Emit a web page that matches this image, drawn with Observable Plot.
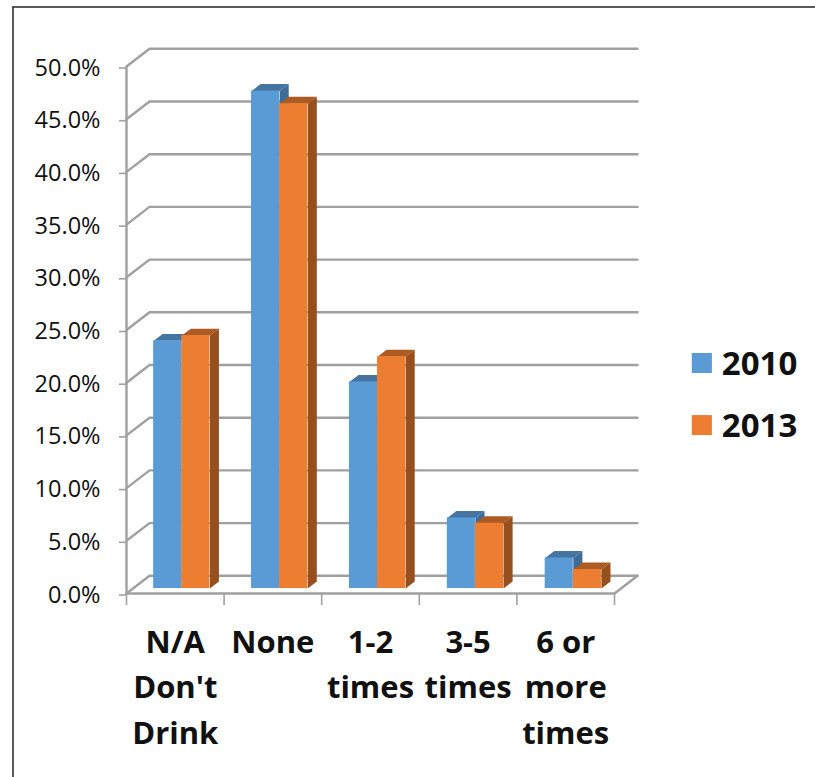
<!DOCTYPE html>
<html>
<head>
<meta charset="utf-8">
<script src="https://cdn.jsdelivr.net/npm/d3@7"></script>
<script src="https://cdn.jsdelivr.net/npm/@observablehq/plot@0.6"></script>
<style>
  html, body { margin: 0; padding: 0; background: #fff; overflow: hidden; }
  svg { display: block; }
</style>
</head>
<body>
<script>
// Drinking frequency shares, in percent
const categories = ["N/A\nDon't\nDrink", "None", "1-2\ntimes", "3-5\ntimes", "6 or\nmore\ntimes"];
const values2010 = [23.5, 47.2, 19.6, 6.7, 2.9];
const values2013 = [24.0, 46.0, 22.0, 6.2, 1.8];
const yTicks = [0, 5, 10, 15, 20, 25, 30, 35, 40, 45, 50];
const seriesNames = ["2010", "2013"];

// Faux-3D look: every offset is expressed in the chart's own units
const wallDx = 0.236, wallDy = 1.68;     // depth of the floor and back wall
const barDx = 0.093, barDy = 0.66;       // depth of a column
const floorDx = 0.066, floorDy = 0.47;   // how far columns sit behind the front edge
const barWidth = 0.288;
const barStep = 1.003;                   // spacing between column groups
const slots = categories.length;

const palette = {
  "2010": {front: "#5b9bd5", top: "#44749f", side: "#3d6d97"},
  "2013": {front: "#ed7d31", top: "#ad5a23", side: "#97501d"}
};
const gridColor = "#a0a0a0";

const bars = [];
seriesNames.forEach((name, s) => {
  const values = s === 0 ? values2010 : values2013;
  values.forEach((v, i) => {
    const x1 = i * barStep + 0.5 + floorDx + (s - 1) * barWidth;
    bars.push({name, i, v, x1, x2: x1 + barWidth, y1: floorDy, y2: v + floorDy});
  });
});

// Parallelograms for the top and right faces of a column
const facesOf = (b, k) => [
  {key: k + "-top", color: palette[b.name].top, pts: [[b.x1, b.y2], [b.x2, b.y2], [b.x2 + barDx, b.y2 + barDy], [b.x1 + barDx, b.y2 + barDy]]},
  {key: k + "-side", color: palette[b.name].side, pts: [[b.x2, b.y1], [b.x2, b.y2], [b.x2 + barDx, b.y2 + barDy], [b.x2 + barDx, b.y1 + barDy]]}
].flatMap(f => f.pts.map(([x, y]) => ({key: f.key, color: f.color, x, y})));

// Gridline running from the front axis up the side wall and along the back wall
const gridPaths = yTicks.flatMap(t => [
  {t, x: 0, y: t},
  {t, x: wallDx, y: t + wallDy},
  {t, x: slots + wallDx, y: t + wallDy}
]);
const floorEdge = [{x: 0, y: 0}, {x: slots, y: 0}, {x: slots + wallDx, y: wallDy}];

// Legend and page-frame anchors
const legend = [
  {name: "2010", y: 21.82},
  {name: "2013", y: 15.93}
];
const legendX = 5.9, legendHalfW = 0.103, legendHalfH = 0.95, legendTextX = 6.1;
const frameLeft = -1.163, frameTop = 55.65, frameRight = 7.2, frameBottom = -17.5;

const chart = Plot.plot({
  width: 815,
  height: 777,
  marginLeft: 126,
  marginRight: 201,
  marginTop: 66,
  marginBottom: 184,
  x: {type: "linear", domain: [0, slots], axis: null},
  y: {type: "linear", domain: [0, 50], axis: null},
  style: {fontFamily: "'Open Sans', sans-serif", color: "#111", background: "#fff", overflow: "visible"},
  marks: [
    // Page frame
    Plot.ruleX([frameLeft], {y1: frameBottom, y2: frameTop, stroke: "#222", strokeWidth: 1.5}),
    Plot.ruleY([frameTop], {x1: frameLeft, x2: frameRight, stroke: "#222", strokeWidth: 1.5}),

    // Walls and axes
    Plot.line(gridPaths, {x: "x", y: "y", z: "t", stroke: gridColor, strokeWidth: 2.4}),
    Plot.line(floorEdge, {x: "x", y: "y", stroke: gridColor, strokeWidth: 2.4}),
    Plot.ruleX([0], {y1: 0, y2: 50, stroke: gridColor, strokeWidth: 2.4}),
    Plot.axisY({ticks: yTicks, tickSize: 7, stroke: gridColor, strokeWidth: 1.6, tickPadding: 19,
      tickFormat: d => d.toFixed(1) + "%", fontSize: 23.5, fontWeight: 400, color: "#111", label: null, dy: 1.5}),
    Plot.axisX({ticks: d3.range(slots + 1), tickSize: 12, stroke: gridColor, strokeWidth: 1.6,
      tickFormat: () => "", label: null}),

    // Columns, painted series by series so nearer faces overlap
    ...bars.flatMap((b, k) => [
      Plot.line(facesOf(b, k), {x: "x", y: "y", z: "key", fill: "color", stroke: "none"}),
      Plot.rect([b], {x1: "x1", x2: "x2", y1: "y1", y2: "y2", fill: palette[b.name].front})
    ]),

    // Category labels
    Plot.text(categories, {
      x: (d, i) => i + 0.5, y: 0, text: d => d, dy: 27, lineAnchor: "top",
      fontSize: 31, fontWeight: "bold", lineHeight: 1.47, fill: "#111"
    }),

    // Legend
    Plot.rect(legend, {
      x1: legendX - legendHalfW, x2: legendX + legendHalfW,
      y1: d => d.y - legendHalfH, y2: d => d.y + legendHalfH,
      fill: d => palette[d.name].front
    }),
    Plot.text(legend, {
      x: legendTextX, y: "y", text: "name", textAnchor: "start", dy: 1,
      fontSize: 33, fontWeight: "bold", fill: "#111"
    })
  ]
});
document.body.appendChild(chart);
</script>
</body>
</html>
